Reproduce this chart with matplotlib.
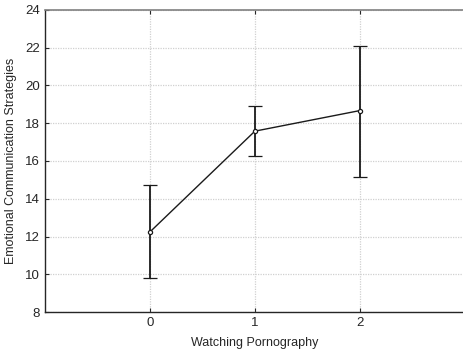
import matplotlib
matplotlib.use("Agg")
import matplotlib.pyplot as plt

plt.rcParams['font.family'] = ['Liberation Sans', 'DejaVu Sans']

levels = [0, 1, 2]
means = [12.24, 17.58, 18.67]
err_low = [9.79, 16.25, 15.17]
err_high = [14.72, 18.93, 22.11]

yerr = [[m - lo for m, lo in zip(means, err_low)],
        [hi - m for m, hi in zip(means, err_high)]]

fig = plt.figure(figsize=(4.63, 3.55), dpi=100)
ax = fig.add_axes([0.097, 0.121, 0.907, 0.851])

ax.grid(True, color="#d0d0d0", linestyle=(0, (1, 1)), linewidth=0.9)
ax.set_axisbelow(True)

ax.errorbar(levels, means, yerr=yerr, color="#1a1a1a", linewidth=1.0,
            capsize=5, capthick=1.0, elinewidth=1.3,
            marker="o", markersize=3, markerfacecolor="white",
            markeredgecolor="#1a1a1a", markeredgewidth=0.9)

ax.set_xlim(-1, 3)
ax.set_ylim(8, 24)
ax.set_xticks(levels)
ax.set_yticks(range(8, 25, 2))
ax.tick_params(direction="in", length=3, labelsize=9.5, colors="#262626",
               top=True, right=False)

for side in ("left", "bottom"):
    ax.spines[side].set_color("#262626")
    ax.spines[side].set_linewidth(1.0)
ax.spines["top"].set_color("#808080")
ax.spines["top"].set_linewidth(1.2)
ax.spines["right"].set_visible(False)

ax.set_xlabel("Watching Pornography", fontsize=9, color="#262626", labelpad=6)
ax.set_ylabel("Emotional Communication Strategies", fontsize=9, color="#262626", labelpad=6)

fig.savefig("out.png", dpi=100)
